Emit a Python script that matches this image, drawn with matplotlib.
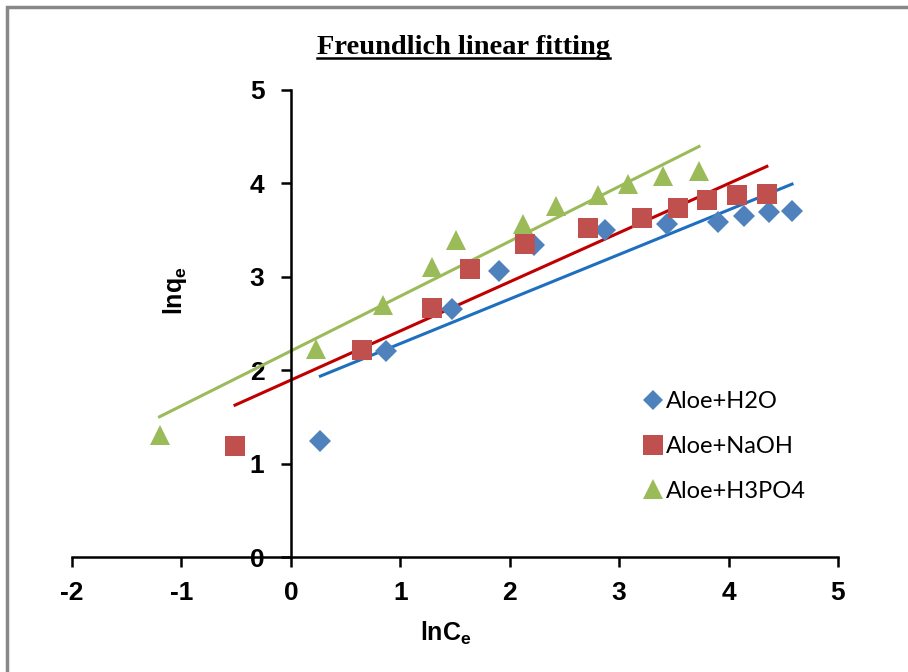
import matplotlib
matplotlib.use('Agg')
import matplotlib.pyplot as plt
import numpy as np
from matplotlib.patches import Rectangle
from matplotlib.lines import Line2D

# lnCe / lnqe values
h2o_x = [0.27, 0.87, 1.47, 1.90, 2.22, 2.87, 3.44, 3.90, 4.14, 4.37, 4.58]
h2o_y = [1.24, 2.21, 2.66, 3.06, 3.34, 3.50, 3.57, 3.59, 3.65, 3.69, 3.70]

naoh_x = [-0.51, 0.65, 1.29, 1.64, 2.14, 2.72, 3.21, 3.54, 3.80, 4.08, 4.35]
naoh_y = [1.19, 2.22, 2.67, 3.08, 3.35, 3.52, 3.63, 3.74, 3.82, 3.88, 3.89]

h3po4_x = [-1.20, 0.23, 0.84, 1.29, 1.51, 2.12, 2.42, 2.81, 3.08, 3.40, 3.73]
h3po4_y = [1.31, 2.23, 2.70, 3.10, 3.39, 3.57, 3.76, 3.88, 3.99, 4.08, 4.13]

labels = ['Aloe+H2O', 'Aloe+NaOH', 'Aloe+H3PO4']
marker_colors = ['#4F81BD', '#C0504D', '#9BBB59']
line_colors = ['#1F6FC0', '#C00000', '#9BBB59']
markers = ['D', 's', '^']
msizes = [11, 15, 15]

x_ticks = [-2, -1, 0, 1, 2, 3, 4, 5]
y_ticks = [0, 1, 2, 3, 4, 5]

plt.rcParams['axes.unicode_minus'] = False
tick_font = ['Liberation Sans', 'DejaVu Sans']

fig = plt.figure(figsize=(9.08, 6.72), dpi=100)
ax = fig.add_axes([0.0793, 0.1711, 0.8436, 0.695])

series = [(h2o_x, h2o_y), (naoh_x, naoh_y), (h3po4_x, h3po4_y)]
for (xs, ys), lab, mc, lc, mk, ms in zip(series, labels, marker_colors,
                                          line_colors, markers, msizes):
    xs = np.array(xs)
    ys = np.array(ys)
    ax.plot(xs, ys, linestyle='none', marker=mk, color=mc, markersize=ms,
            markeredgewidth=0, label=lab, zorder=3)
    # linear trendline over the data range (like excel)
    k, b = np.polyfit(xs, ys, 1)
    xx = np.array([xs.min(), xs.max()])
    ax.plot(xx, k * xx + b, color=lc, linewidth=2.2, zorder=2)

ax.set_xlim(-2, 5)
ax.set_ylim(0, 5)
ax.set_xticks(x_ticks)
ax.set_yticks(y_ticks)

ax.spines['left'].set_position(('data', 0))
ax.spines['top'].set_visible(False)
ax.spines['right'].set_visible(False)
ax.spines['left'].set_linewidth(1.8)
ax.spines['bottom'].set_linewidth(1.8)
ax.tick_params(direction='out', length=7, width=1.8, labelsize=19)
ax.tick_params(axis='x', pad=10)
ax.tick_params(axis='y', pad=12)
for t in ax.get_xticklabels() + ax.get_yticklabels():
    t.set_fontfamily(tick_font)
    t.set_fontweight('bold')

fig.text(0.491, 0.058, r'lnC$_\mathregular{e}$', ha='center', va='center',
         fontsize=18, fontweight='bold', family=tick_font)
fig.text(0.193, 0.567, r'lnq$_\mathregular{e}$', ha='center', va='center',
         rotation=90, fontsize=18, fontweight='bold', family=tick_font)

title = fig.text(0.51, 0.93, 'Freundlich linear fitting', ha='center',
                 va='center', fontsize=20.5, fontweight='bold',
                 family=['Liberation Serif', 'DejaVu Serif'])

leg = ax.legend(loc='upper left', bbox_to_anchor=(0.715, 0.40), frameon=False,
                prop={'family': ['Lato', 'DejaVu Sans'], 'size': 17},
                handletextpad=0.05, handlelength=1.0, labelspacing=1.0,
                markerscale=0.95)

# outer chart border (only left/top visible in the frame)
fig.patches.append(Rectangle((0.0075, -0.1), 1.2, 1.0895,
                             transform=fig.transFigure, fill=False,
                             edgecolor='#888888', linewidth=2.5))

# underline the title
fig.canvas.draw()
bb = title.get_window_extent(fig.canvas.get_renderer())
bbf = bb.transformed(fig.transFigure.inverted())
fig.lines.append(Line2D([bbf.x0, bbf.x1], [bbf.y0 + 0.002, bbf.y0 + 0.002],
                        transform=fig.transFigure, color='black',
                        linewidth=1.8))

fig.savefig('out.png', dpi=100)
